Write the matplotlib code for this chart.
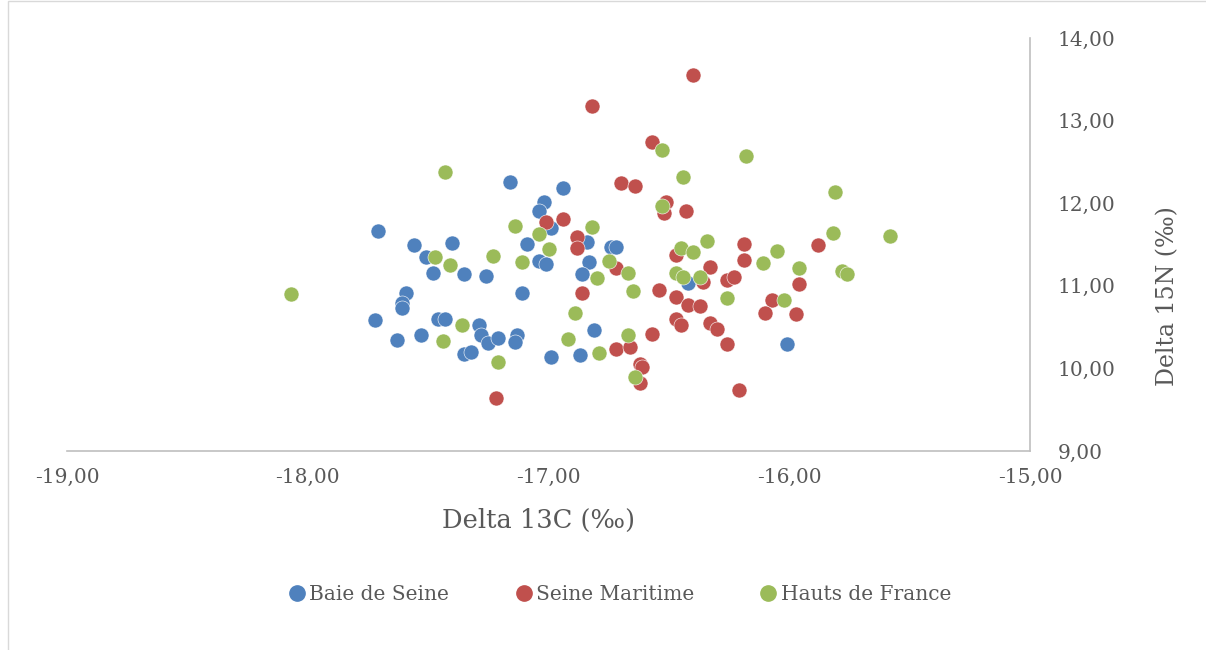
import numpy as np
import matplotlib
matplotlib.use("Agg")
import matplotlib.pyplot as plt
from matplotlib.ticker import FuncFormatter, MultipleLocator
from matplotlib.lines import Line2D
from matplotlib.patches import Rectangle

# Baie de Seine
baie_x = [-17.71, -17.56, -17.51, -17.48, -17.40, -17.35, -17.26, -17.16, -16.94, -17.02,
          -17.04, -16.99, -17.09, -17.04, -17.01, -16.84, -16.83, -16.86, -16.74, -16.72,
          -17.11, -17.59, -17.61, -17.61, -17.72, -17.63, -17.53, -17.46, -17.43, -17.35,
          -17.32, -17.29, -17.28, -17.25, -17.21, -17.13, -17.14, -16.99, -16.87, -16.81,
          -16.42, -16.01]
baie_y = [11.66, 11.49, 11.35, 11.15, 11.52, 11.14, 11.12, 12.26, 12.18, 12.01,
          11.91, 11.70, 11.51, 11.30, 11.26, 11.53, 11.29, 11.14, 11.47, 11.47,
          10.91, 10.91, 10.79, 10.73, 10.59, 10.34, 10.40, 10.60, 10.60, 10.17,
          10.20, 10.53, 10.40, 10.31, 10.37, 10.40, 10.32, 10.14, 10.16, 10.46,
          11.03, 10.30]

# Seine Maritime
seine_x = [-16.40, -16.82, -16.57, -16.70, -16.64, -16.51, -16.52, -16.43, -16.94, -17.01,
           -16.88, -16.88, -16.72, -16.86, -16.47, -16.33, -16.36, -16.26, -16.23, -16.19,
           -16.19, -15.88, -15.96, -15.97, -16.07, -16.10, -16.54, -16.47, -16.42, -16.37,
           -16.47, -16.45, -16.33, -16.30, -16.26, -16.57, -16.72, -16.66, -16.62, -16.61,
           -16.62, -16.21, -17.22]
seine_y = [13.55, 13.18, 12.74, 12.24, 12.21, 12.01, 11.88, 11.91, 11.81, 11.77,
           11.59, 11.46, 11.22, 10.91, 11.37, 11.23, 11.05, 11.07, 11.11, 11.51,
           11.31, 11.49, 11.02, 10.66, 10.83, 10.67, 10.95, 10.86, 10.77, 10.76,
           10.60, 10.53, 10.55, 10.48, 10.30, 10.42, 10.23, 10.26, 10.05, 10.02,
           9.82, 9.74, 9.64]

# Hauts de France
hauts_x = [-17.43, -18.07, -17.47, -17.41, -17.44, -17.36, -17.21, -17.14, -17.04, -17.00,
           -17.11, -17.23, -16.82, -16.75, -16.80, -16.67, -16.89, -16.92, -16.79, -16.67,
           -16.64, -16.53, -16.18, -16.44, -16.53, -16.45, -16.40, -16.34, -16.47, -16.44,
           -16.37, -16.11, -16.05, -16.65, -16.26, -16.02, -15.81, -15.82, -15.58, -15.96,
           -15.78, -15.76]
hauts_y = [12.38, 10.90, 11.35, 11.25, 10.33, 10.53, 10.08, 11.72, 11.63, 11.45,
           11.29, 11.36, 11.71, 11.30, 11.09, 11.15, 10.67, 10.36, 10.19, 10.40,
           9.90, 12.64, 12.57, 12.32, 11.97, 11.46, 11.41, 11.54, 11.15, 11.11,
           11.11, 11.28, 11.42, 10.94, 10.85, 10.83, 12.14, 11.64, 11.60, 11.22,
           11.18, 11.14]

series = [("Baie de Seine", baie_x, baie_y, "#4F81BD"),
          ("Seine Maritime", seine_x, seine_y, "#C0504D"),
          ("Hauts de France", hauts_x, hauts_y, "#9BBB59")]

txt = "#595959"
plt.rcParams['font.family'] = ['DejaVu Serif']

fig = plt.figure(figsize=(12.06, 6.5), dpi=100)
fig.patches.append(Rectangle((8 / 1206, -0.1), 1.2, 1.1 - 1 / 650, transform=fig.transFigure,
                             fill=False, edgecolor="#D9D9D9", lw=1))

ax = fig.add_axes([67 / 1206, 1 - 451 / 650, 963 / 1206, 413 / 650])
for name, xs, ys, c in series:
    ax.scatter(xs, ys, s=117, color=c, edgecolors="white", linewidths=0.4, label=name, zorder=3)

ax.set_xlim(-19, -15)
ax.set_ylim(9, 14)
ax.xaxis.set_major_locator(MultipleLocator(1))
ax.yaxis.set_major_locator(MultipleLocator(1))
fmt = FuncFormatter(lambda v, p: f"{v:.2f}".replace(".", ","))
ax.xaxis.set_major_formatter(fmt)
ax.yaxis.set_major_formatter(fmt)
ax.yaxis.tick_right()
for s in ["left", "top"]:
    ax.spines[s].set_visible(False)
for s in ["right", "bottom"]:
    ax.spines[s].set_color("#BFBFBF")
    ax.spines[s].set_linewidth(1.2)
ax.tick_params(axis="x", length=0, pad=12, labelsize=14.5, labelcolor=txt)
ax.tick_params(axis="y", length=0, pad=20, labelsize=14.5, labelcolor=txt)
for lab in ax.get_yticklabels():
    lab.set_horizontalalignment("left")

fig.text(538 / 1206, 1 - 520 / 650, "Delta 13C (‰)", ha="center", va="center", fontsize=18.5, color=txt)
fig.text(1168 / 1206, 1 - 296 / 650, "Delta 15N (‰)", ha="center", va="center", rotation=90,
         fontsize=17, color=txt)

handles = [Line2D([], [], ls="", marker="o", ms=11, color=c, mec=c) for _, _, _, c in series]
fig.legend(handles, [n for n, _, _, _ in series], loc="center", bbox_to_anchor=(619 / 1206, 1 - 595 / 650),
           ncol=3, frameon=False, fontsize=14.5, labelcolor=txt, handletextpad=0.1,
           columnspacing=3.2, handlelength=1.0)

fig.savefig("out.png", dpi=100)
